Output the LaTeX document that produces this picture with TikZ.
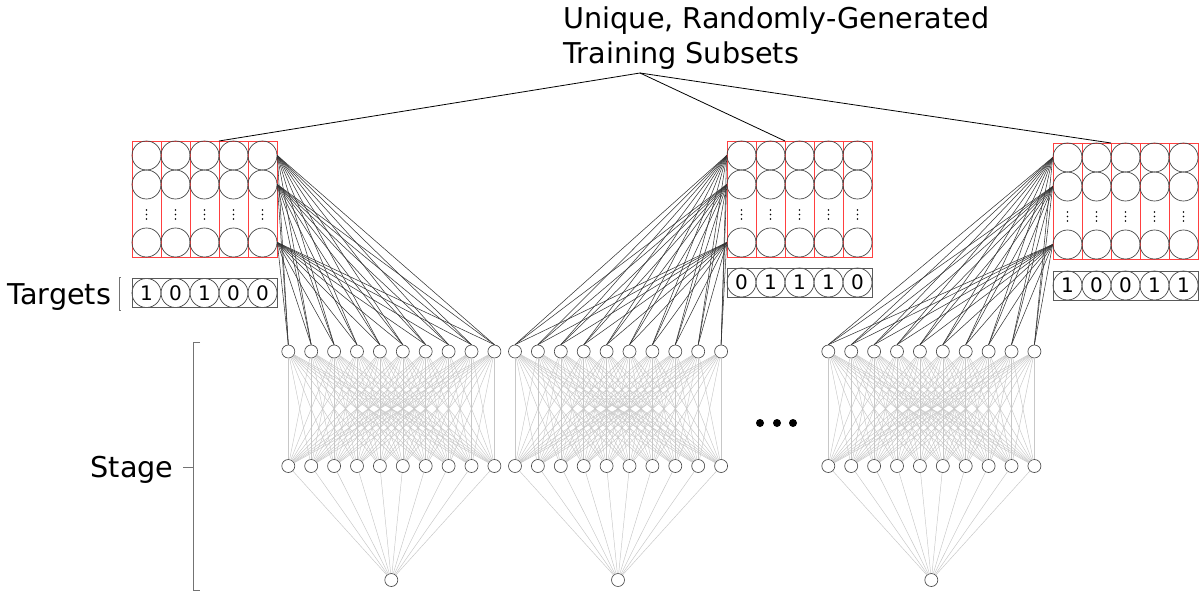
\documentclass[tikz,border=0pt]{standalone}
\usepackage{fontspec}
\setmainfont{DejaVu Sans}
\tikzset{every picture/.style={line width=0.75pt}}

\begin{document}
\begin{tikzpicture}[x=0.75pt,y=0.75pt,yscale=-1,xscale=1,
  cell/.style={circle,draw=black!75,line width=0.5pt,minimum size=21.75pt,inner sep=0pt},
  digit/.style={cell,font=\fontsize{15}{15}\selectfont},
  unit/.style={circle,draw=black!70,line width=0.5pt,fill=white,minimum size=9.75pt,inner sep=0pt},
  colbox/.style={draw=red!75,line width=0.6pt},
  tgtbox/.style={draw=black!65,line width=0.6pt},
  wire/.style={black!80,line width=0.4pt},
  faint/.style={black!22,line width=0.35pt},
  bracketline/.style={black!55,line width=0.6pt},
  bigtext/.style={inner sep=0pt,font=\fontsize{21.5}{26.25}\selectfont}]
\useasboundingbox (0,0) rectangle (1199,592);

% Training subsets and targets
\foreach \m/\L/\T/\Y/\bits in {1/132/141/278.5/{1,0,1,0,0}, 2/727/141/268/{0,1,1,1,0}, 3/1053/143/271/{1,0,0,1,1}} {
  \foreach \b [count=\c] in \bits {
    \pgfmathsetmacro\cx{\L+29*(\c-0.5)}
    \draw[colbox] ({\L+29*(\c-1)},\T) rectangle ({\L+29*\c},\T+116);
    \node[cell] (m\m-\c-1) at (\cx,\T+14.5) {};
    \node[cell] (m\m-\c-2) at (\cx,\T+43.5) {};
    \node[cell] (m\m-\c-4) at (\cx,\T+101.5) {};
    \foreach \d in {-4.5,0,4.5} \fill (\cx,\T+73.5+\d) circle (0.6pt);
    \node[digit] (t\m-\c) at (\cx,\Y+14.5) {\b};
  }
  \draw[tgtbox] (\L,\Y) rectangle (\L+145,\Y+29);
}

% Text Node
\node (title) [bigtext, anchor=north west, align=left] at (563,6) {Unique, Randomly-Generated\\Training Subsets};
%Straight Lines
\coordinate (hub) at (640,73);
\coordinate (s1) at (219,141);
\coordinate (s2) at (785,141);
\coordinate (s3) at (1111,143);
\foreach \s in {s1,s2,s3} \draw[black,line width=0.6pt] (hub) -- (\s);

% Networks
\foreach \n/\X in {1/288.3, 2/515, 3/828.3} {
  \foreach \i in {1,...,10} {
    \node[unit] (n\n-t\i) at ({\X+22.9*(\i-1)},351.5) {};
    \node[unit] (n\n-b\i) at ({\X+22.9*(\i-1)},466) {};
  }
  \node[unit] (n\n-o) at (\X+103,580) {};
  \foreach \i in {1,...,10} {
    \foreach \j in {1,...,10} \draw[faint] (n\n-t\i) -- (n\n-b\j);
    \draw[faint] (n\n-b\i) -- (n\n-o);
  }
}

%Straight Lines (inputs)
\foreach \r in {1,2,4} \foreach \i in {1,...,10} {
  \draw[wire] (m1-5-\r.east) -- (n1-t\i.north);
  \draw[wire] (m2-1-\r.west) -- (n2-t\i.north);
  \draw[wire] (m3-1-\r.west) -- (n3-t\i.north);
}

% Ellipsis
\foreach \x in {760,777,793} \fill (\x,423) circle (3pt);

% Text Node
\node (targets) [bigtext, anchor=base west] at (7,304) {Targets};
\draw[bracketline] (121,277) -- (119,277) -- (119,310) -- (121,310);
% Text Node
\node (stage) [bigtext, anchor=base east] at (174,477) {Stage};
\draw[bracketline] (200,342) -- (193,342) -- (193,590) -- (200,590);
\draw[bracketline] (183,467) -- (193,467);

\end{tikzpicture}
\end{document}
